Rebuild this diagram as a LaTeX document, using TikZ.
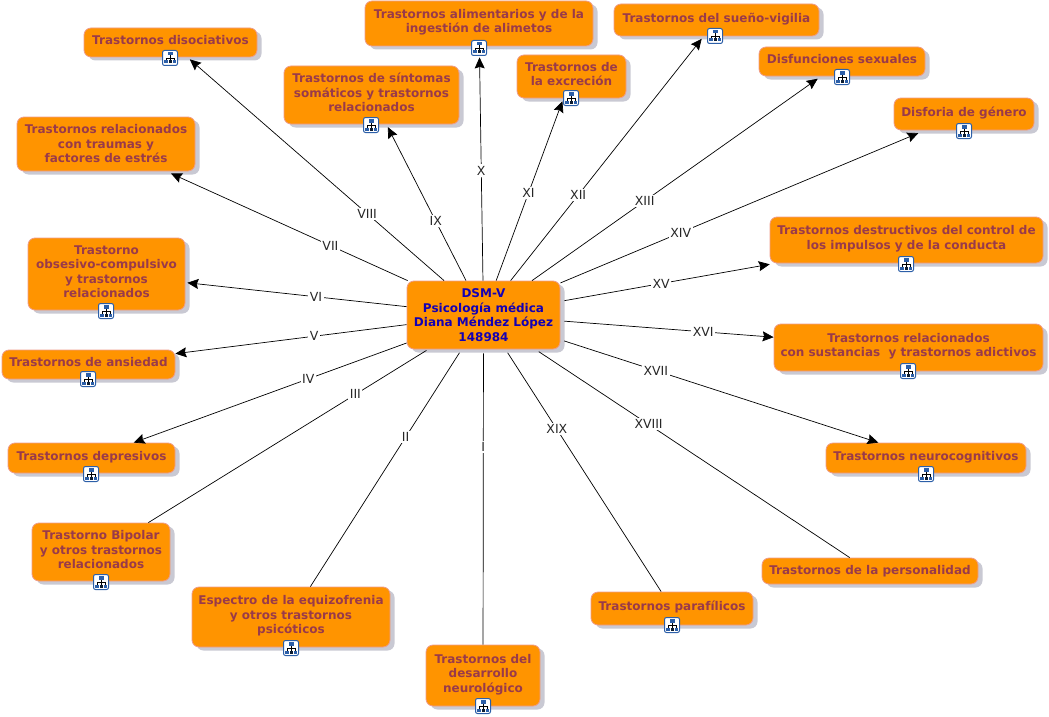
\documentclass[tikz,border=0pt]{standalone}
\usepackage{fontspec}
\setmainfont{DejaVu Sans}
\usetikzlibrary{arrows.meta,shadows}
\definecolor{boxfill}{HTML}{FF9400}
\definecolor{boxline}{HTML}{EE9C8C}
\definecolor{boxshade}{HTML}{C9C9D3}
\definecolor{boxtext}{HTML}{993A4A}
\definecolor{maintext}{HTML}{1400B4}
\definecolor{iconblue}{HTML}{2C5FA8}
\tikzset{
  conbox/.style 2 args={draw=boxline,fill=boxfill,rounded corners=7pt,line width=0.8pt,
    minimum width=#1pt,minimum height=#2pt,inner sep=0pt,align=center,text=boxtext,
    font=\fontsize{12}{14.5}\selectfont\bfseries,
    drop shadow={shadow xshift=4.5pt,shadow yshift=-3.5pt,fill=boxshade,opacity=1}},
  tagtext/.style={fill=white,inner sep=1.5pt,text=black!85,font=\fontsize{12.5}{13}\selectfont},
  link/.style={line width=0.7pt,black},
  arrow/.style={link,-{Stealth[length=11pt,width=10pt,inset=1.5pt]}},
  mapicon/.pic={
    \draw[iconblue,fill=white,rounded corners=2pt,line width=1pt] (-7.5,-7.5) rectangle (7.5,7.5);
    \draw[black,line width=0.5pt] (0,-3) -- (0,0) (-4,3) -- (-4,0) -- (4,0) -- (4,3) (0,0) -- (0,3);
    \fill[iconblue] (-2.5,-6) rectangle (2.5,-2.5);
    \fill[iconblue] (-6,2.5) rectangle (-2.5,5.5);
    \fill[black!70!iconblue] (-1.5,2.5) rectangle (1.5,5.5);
    \fill[iconblue] (2.5,2.5) rectangle (6,5.5);
  }
}
\newcommand{\upa}{\\[-9.5pt]}
\begin{document}
\begin{tikzpicture}[x=1pt,y=-1pt]
\useasboundingbox (0,0) rectangle (1049,717);
% centre
\node[conbox={153}{68},text=maintext] (dsm) at (483.5,315) {DSM-V\\Psicología médica\\Diana Méndez López\\148984};
% boxes, from the lower middle round the clock
\node[conbox={114}{61}] (desarrollo) at (483,675.5) {Trastornos del\\desarrollo\\neurológico\upa};
\node[conbox={198}{60}] (espectro) at (291,617) {Espectro de la equizofrenia\\y otros trastornos\\psicóticos\upa};
\node[conbox={138}{58}] (bipolar) at (101,552) {Trastorno Bipolar\\y otros trastornos\\relacionados\upa};
\node[conbox={167}{30}] (depresivos) at (91.5,458) {Trastornos depresivos\upa};
\node[conbox={173}{29}] (ansiedad) at (88.5,364.5) {Trastornos de ansiedad\upa};
\node[conbox={157}{72}] (obsesivo) at (106.5,274) {Trastorno\\obsesivo-compulsivo\\y trastornos\\relacionados\upa};
\node[conbox={178}{54}] (estres) at (106,144) {Trastornos relacionados\\con traumas y\\factores de estrés};
\node[conbox={173}{29}] (disociativos) at (170.5,42.5) {Trastornos disociativos\upa};
\node[conbox={175}{58}] (somaticos) at (371.5,95) {Trastornos de síntomas\\somáticos y trastornos\\relacionados\upa};
\node[conbox={228}{45}] (alimentarios) at (479,23.5) {Trastornos alimentarios y de la\\ingestión de alimetos\upa};
\node[conbox={109}{43}] (excrecion) at (571.5,76.5) {Trastornos de\\la excreción\upa};
\node[conbox={205}{32}] (sueno) at (716.5,20) {Trastornos del sueño-vigilia\upa};
\node[conbox={166}{29}] (sexuales) at (842,61.5) {Disfunciones sexuales\upa};
\node[conbox={140}{32}] (genero) at (964,114) {Disforia de género\upa};
\node[conbox={273}{46}] (impulsos) at (906.5,240) {Trastornos destructivos del control de\\los impulsos y de la conducta\upa};
\node[conbox={269}{47}] (adictivos) at (908.5,347.5) {Trastornos relacionados\\con sustancias\ \ y trastornos adictivos\upa};
\node[conbox={200}{30}] (neuro) at (926,458) {Trastornos neurocognitivos\upa};
\node[conbox={216}{26}] (personalidad) at (870,571) {Trastornos de la personalidad};
\node[conbox={162}{33}] (parafilicos) at (672,608.5) {Trastornos parafílicos\upa};
% connectors
\draw[link,shorten <=4pt] (dsm) -- node[tagtext,pos=.33] {I} (desarrollo);
\draw[link,shorten <=4pt] (dsm) -- node[tagtext,pos=.37] {II} (espectro);
\draw[link,shorten <=2pt] (dsm) -- node[tagtext,pos=.26] {III} (bipolar);
\draw[arrow] (dsm) -- node[tagtext,pos=.36] {IV} (depresivos);
\draw[arrow] (dsm) -- node[tagtext,pos=.40] {V} (ansiedad);
\draw[arrow,shorten >=2pt] (dsm) -- node[tagtext,pos=.41] {VI} (obsesivo);
\draw[arrow,shorten >=5pt] (dsm) -- node[tagtext,pos=.32] {VII} (estres);
\draw[arrow,shorten >=3pt] (dsm) -- node[tagtext,pos=.30] {VIII} (disociativos);
\draw[arrow,shorten >=3pt] (dsm) -- node[tagtext,pos=.38] {IX} (somaticos);
\draw[arrow,shorten >=11pt] (dsm) -- node[tagtext,pos=.47] {X} (alimentarios);
\draw[arrow,shorten >=3pt] (dsm) -- node[tagtext,pos=.48] {XI} (excrecion);
\draw[arrow,shorten >=3pt] (dsm) -- node[tagtext,pos=.35] {XII} (sueno);
\draw[arrow,shorten >=4pt] (dsm) -- node[tagtext,pos=.39] {XIII} (sexuales);
\draw[arrow,shorten >=7pt] (dsm) -- node[tagtext,pos=.33] {XIV} (genero);
\draw[arrow,shorten <=4pt,shorten >=5pt] (dsm) -- node[tagtext,pos=.47] {XV} (impulsos);
\draw[arrow,shorten <=4pt] (dsm) -- node[tagtext,pos=.67] {XVI} (adictivos);
\draw[arrow,shorten <=4pt] (dsm) -- node[tagtext,pos=.30] {XVII} (neuro);
\draw[link,shorten <=4pt] (dsm) -- node[tagtext,pos=.36] {XVIII} (personalidad);
\draw[link,shorten <=4pt] (dsm) -- node[tagtext,pos=.33] {XIX} (parafilicos);
% icons
\pic at (483,706) {mapicon};
\pic at (291,648) {mapicon};
\pic at (101,582) {mapicon};
\pic at (91,474) {mapicon};
\pic at (88,379) {mapicon};
\pic at (106,311) {mapicon};
\pic at (170,58) {mapicon};
\pic at (371,125) {mapicon};
\pic at (479,48) {mapicon};
\pic at (571,98) {mapicon};
\pic at (715,36) {mapicon};
\pic at (842,77) {mapicon};
\pic at (964,131) {mapicon};
\pic at (906,264) {mapicon};
\pic at (908,371) {mapicon};
\pic at (926,474) {mapicon};
\pic at (672,625) {mapicon};
\end{tikzpicture}
\end{document}
